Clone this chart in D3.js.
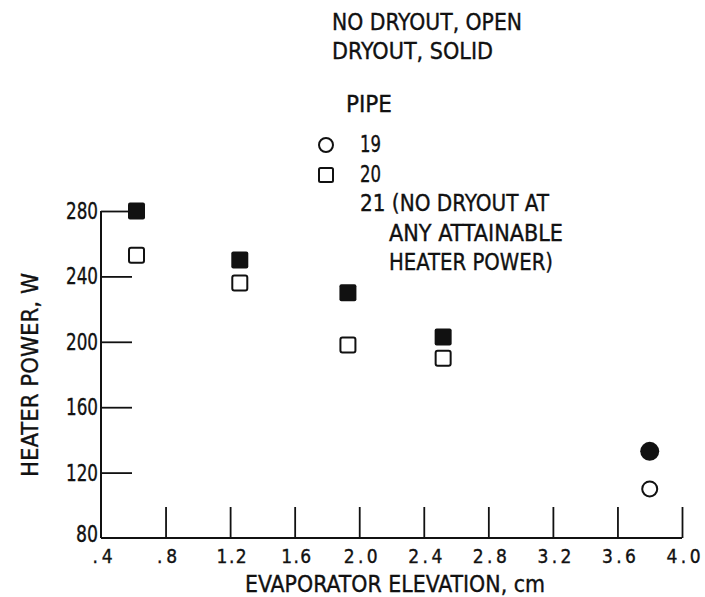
<!DOCTYPE html>
<html>
<head>
<meta charset="utf-8">
<script src="https://cdn.jsdelivr.net/npm/d3@7"></script>
<style>
  body { margin: 0; background: #fff; }
  svg { display: block; }
  text { font-family: 'DejaVu Sans Condensed', 'Liberation Sans Narrow', sans-serif; fill: #111; stroke: #111; stroke-width: 0.35px; }
</style>
</head>
<body>
<svg id="chart" width="705" height="597"></svg>
<script>
// pipe 20 (squares)
const pipe20Elev = [0.62, 1.26, 1.93, 2.52];
const pipe20Dryout = [280, 250, 230, 203];
const pipe20NoDryout = [253, 236, 198, 190];
// pipe 19 (circles)
const pipe19Elev = [3.8];
const pipe19Dryout = [133];
const pipe19NoDryout = [110];

const xTicks = [0.4, 0.8, 1.2, 1.6, 2.0, 2.4, 2.8, 3.2, 3.6, 4.0];
const xTickLabels = ['.4', '.8', '1.2', '1.6', '2.0', '2.4', '2.8', '3.2', '3.6', '4.0'];
const yTicks = [80, 120, 160, 200, 240, 280];

const svg = d3.select('#chart');
const ink = '#111';

const x = d3.scaleLinear().domain([0.4, 4.0]).range([101, 682]);
const y = d3.scaleLinear().domain([80, 280]).range([538, 211]);

// axes drawn by d3, ticks pointing into the plot
const yAxis = d3.axisLeft(y).tickValues(yTicks.filter((d)=>d > 80)).tickSize(-31).tickFormat('');
const xAxis = d3.axisBottom(x).tickValues(xTicks.filter((d)=>d > 0.4)).tickSize(-31).tickFormat('');

const gy = svg.append('g').attr('transform', `translate(${x(0.4)},0)`).call(yAxis);
const gx = svg.append('g').attr('transform', `translate(0,${y(80)})`).call(xAxis);
[gx, gy].forEach((g)=>{
  g.select('.domain').attr('d', g === gx ? `M${x(0.4)},0H${x(4.0)}` : `M0,${y(80)}V${y(280)}`)
      .style('stroke', ink).style('stroke-width', 2);
  g.selectAll('.tick line').style('stroke', ink).style('stroke-width', 1.8);
});

// tick labels (squeezed to the narrow lettering of the original)
svg.append('g').selectAll('text').data(yTicks).enter().append('text')
    .attr('x', x(0.4) - 3)
    .attr('y', (d)=>y(d) + (d == 80 ? 4 : 8))
    .attr('text-anchor', 'end')
    .attr('textLength', (d)=>String(d).length == 3 ? 32 : 22)
    .attr('lengthAdjust', 'spacingAndGlyphs')
    .style('font-size', '23px')
    .text((d)=>d);

svg.append('g').selectAll('text').data(xTicks).enter().append('text')
    .attr('x', (d)=>x(d) + 1.5)
    .attr('y', 563)
    .attr('text-anchor', 'middle')
    .attr('textLength', (d, i)=>xTickLabels[i].length == 2 ? 20 : (xTickLabels[i][0] == '1' ? 30 : 34))
    .attr('lengthAdjust', 'spacing')
    .style('font-size', '19px')
    .text((d, i)=>xTickLabels[i]);

// axis titles
svg.append('text')
    .attr('x', 245).attr('y', 592)
    .attr('textLength', 300)
    .attr('lengthAdjust', 'spacingAndGlyphs')
    .style('font-size', '23px')
    .text('EVAPORATOR ELEVATION, cm');

svg.append('text')
    .attr('transform', `translate(38,477) rotate(-90)`)
    .attr('textLength', 204)
    .attr('lengthAdjust', 'spacingAndGlyphs')
    .style('font-size', '23px')
    .text('HEATER POWER, W');

// data marks
const sq = 17;
const marks = svg.append('g');

marks.selectAll('rect.nodry20').data(pipe20Elev).enter().append('rect')
    .attr('x', (d)=>x(d) - sq/2 + 1)
    .attr('y', (d, i)=>y(pipe20NoDryout[i]) - sq/2 + 1)
    .attr('width', sq - 2).attr('height', sq - 2).attr('rx', 2)
    .style('fill', '#fff').style('stroke', ink).style('stroke-width', 2);

marks.selectAll('rect.dry20').data(pipe20Elev).enter().append('rect')
    .attr('x', (d)=>x(d) - sq/2)
    .attr('y', (d, i)=>y(pipe20Dryout[i]) - sq/2)
    .attr('width', sq).attr('height', sq).attr('rx', 2)
    .style('fill', ink);

marks.selectAll('circle.nodry19').data(pipe19Elev).enter().append('circle')
    .attr('cx', (d)=>x(d))
    .attr('cy', (d, i)=>y(pipe19NoDryout[i]))
    .attr('r', 7.5)
    .style('fill', '#fff').style('stroke', ink).style('stroke-width', 2);

marks.selectAll('circle.dry19').data(pipe19Elev).enter().append('circle')
    .attr('cx', (d)=>x(d))
    .attr('cy', (d, i)=>y(pipe19Dryout[i]))
    .attr('r', 9.5)
    .style('fill', ink);

// legend
const legend = svg.append('g').style('font-size', '23px');
const legendLines = [
  {t: 'NO DRYOUT, OPEN', x: 332, y: 30, w: 190},
  {t: 'DRYOUT, SOLID', x: 332, y: 59, w: 161},
  {t: 'PIPE', x: 346, y: 112, w: 46},
  {t: '19', x: 360, y: 152, w: 21},
  {t: '20', x: 360, y: 182, w: 21},
  {t: '21 (NO DRYOUT AT', x: 360, y: 211, w: 189},
  {t: 'ANY ATTAINABLE', x: 389, y: 241, w: 174},
  {t: 'HEATER POWER)', x: 389, y: 270, w: 164},
];
legend.selectAll('text').data(legendLines).enter().append('text')
    .attr('x', (d)=>d.x).attr('y', (d)=>d.y)
    .attr('textLength', (d)=>d.w)
    .attr('lengthAdjust', 'spacingAndGlyphs')
    .text((d)=>d.t);

legend.append('circle').attr('cx', 326).attr('cy', 145).attr('r', 7)
    .style('fill', '#fff').style('stroke', ink).style('stroke-width', 2);
legend.append('rect').attr('x', 319).attr('y', 168).attr('width', 14).attr('height', 14).attr('rx', 1.5)
    .style('fill', '#fff').style('stroke', ink).style('stroke-width', 2);
</script>
</body>
</html>
